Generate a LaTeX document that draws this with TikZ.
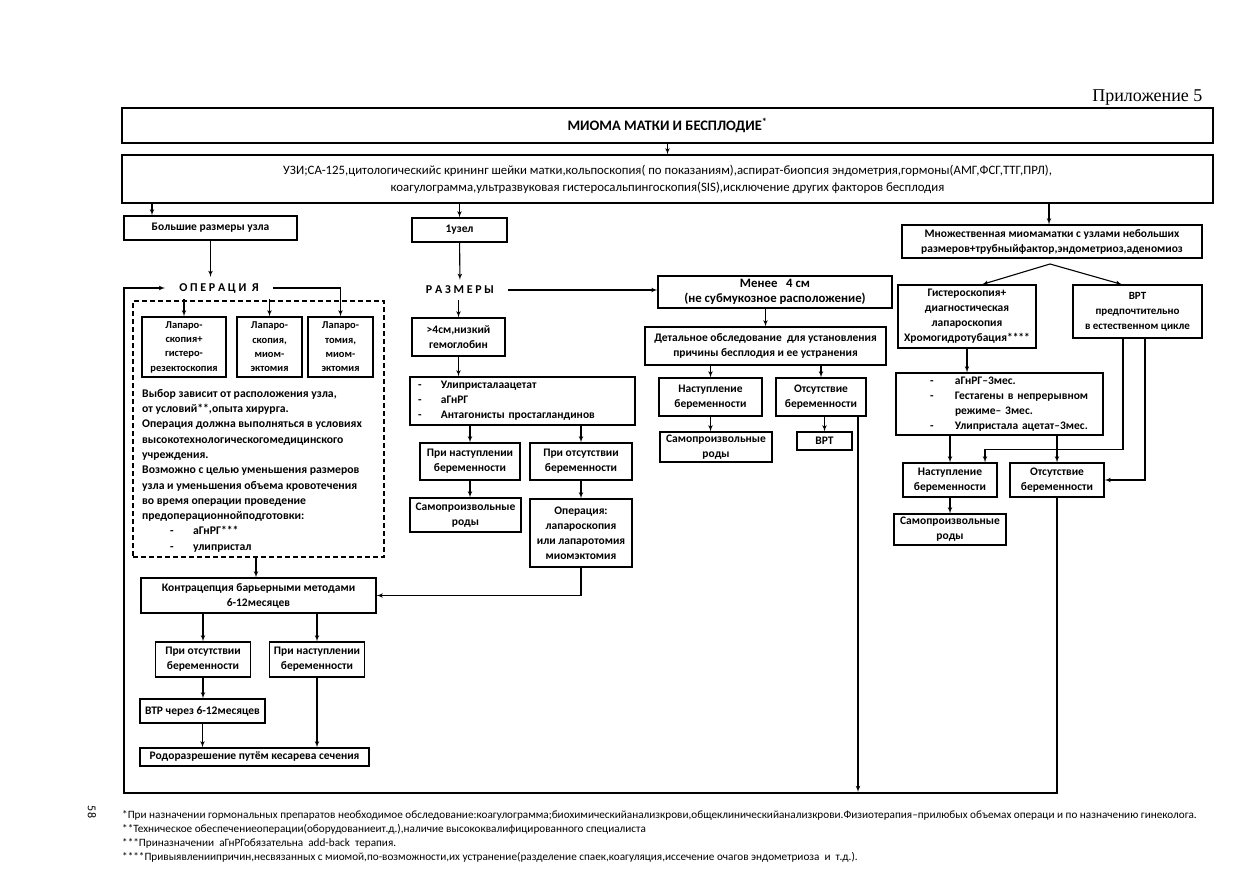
\documentclass[tikz,border=0pt]{standalone}
\usepackage{fontspec}
\setmainfont{Carlito}
\newfontfamily\serifru{Liberation Serif}
\usetikzlibrary{shapes,arrows,positioning}

\begin{document}
\begin{tikzpicture}[x=1pt, y=-1pt, auto]
    \tikzstyle{block} = [rectangle, draw, line width=1.1pt, align=center, inner sep=2pt, font=\fontsize{11.5}{15}\selectfont\bfseries]
    \tikzstyle{tight} = [font=\fontsize{10.5}{14.3}\selectfont\bfseries]
    \tikzstyle{plain} = [font=\fontsize{12.8}{17}\selectfont]
    \tikzstyle{spaced} = [inner xsep=14pt, inner ysep=6pt, font=\fontsize{12}{13}\selectfont\bfseries]
    \tikzstyle{dashbox} = [draw, line width=1.1pt, dash pattern=on 5pt off 3pt]
    \tikzstyle{fnote} = [anchor=west, inner sep=0pt, font=\fontsize{11.2}{12}\selectfont]
    \tikzstyle{line} = [draw, line width=1.1pt, -latex']

    \useasboundingbox (0,0) rectangle (1259,893);

    % heading
    \node [anchor=east, font=\serifru\fontsize{18}{20}\selectfont] (app) at (1206,98) {Приложение 5};
    \node [block, minimum width=1091, minimum height=35, font=\fontsize{14.5}{16}\selectfont\bfseries] (title) at (667.5,125.5) {МИОМА МАТКИ И БЕСПЛОДИЕ\textsuperscript{*}};
    \node [block, plain, minimum width=1091, minimum height=48] (exam) at (667.5,179) {УЗИ;СА-125,цитологическийс крининг шейки матки,кольпоскопия( по показаниям),аспират-биопсия эндометрия,гормоны(АМГ,ФСГ,ТТГ,ПРЛ),\\коагулограмма,ультразвуковая гистеросальпингоскопия(SIS),исключение других факторов бесплодия};

    % left column
    \node [block, minimum width=173, minimum height=24] (large) at (210.5,228) {Большие размеры узла};
    \node [spaced] (oper) at (219,288) {О П Е Р А Ц И~~Я};
    \node [dashbox, minimum width=251, minimum height=256] (frame) at (258.5,429) {};
    \node [block, tight, minimum width=84, minimum height=60] (lapA) at (184,347) {Лапаро-\\скопия+\\гистеро-\\резектоскопия};
    \node [block, tight, minimum width=65, minimum height=60] (lapB) at (269.5,347) {Лапаро-\\скопия,\\миом-\\эктомия};
    \node [block, tight, minimum width=65, minimum height=60] (lapC) at (340.5,347) {Лапаро-\\томия,\\миом-\\эктомия};
    \node [anchor=north west, align=left, inner sep=0pt, font=\fontsize{11.7}{15.3}\selectfont\bfseries] (choice) at (142,389) {Выбор зависит от расположения узла,\\от условий**,опыта хирурга.\\Операция должна выполняться в условиях\\высокотехнологическогомедицинского\\учреждения.\\Возможно с целью уменьшения размеров\\узла и уменьшения объема кровотечения\\во время операции проведение\\предоперационнойподготовки:\\\hspace*{28pt}\makebox[23pt][l]{-}аГнРГ***\\\hspace*{28pt}\makebox[23pt][l]{-}улипристал};
    \node [block, minimum width=235, minimum height=35] (contra) at (258.5,595.5) {Контрацепция барьерными методами\\6-12месяцев};
    \node [block, minimum width=95, minimum height=35] (absA) at (203,659.5) {При отсутствии\\беременности};
    \node [block, minimum width=95, minimum height=35] (presA) at (317,659.5) {При наступлении\\беременности};
    \node [block, minimum width=125, minimum height=24] (art) at (202.5,711) {ВТР через 6-12месяцев};
    \node [block, minimum width=229, minimum height=18, inner sep=1pt] (cesar) at (254.5,757) {Родоразрешение путём кесарева сечения};

    % middle column
    \node [block, minimum width=95, minimum height=24] (node1) at (459.5,230) {1узел};
    \node [spaced] (size) at (460,290) {Р А З М Е Р Ы};
    \node [block, minimum width=93, minimum height=38] (big) at (458.5,337) {>4см,низкий\\гемоглобин};
    \node [block, align=left, text width=209, inner xsep=8pt, minimum height=48] (drugs) at (522.5,401) {\makebox[23pt][l]{-}Улипристалаацетат\\\makebox[23pt][l]{-}аГнРГ\\\makebox[23pt][l]{-}Антагонисты простагландинов};
    \node [block, minimum width=100, minimum height=37] (presB) at (470,461.5) {При наступлении\\беременности};
    \node [block, minimum width=102, minimum height=37] (absB) at (581,461.5) {При отсутствии\\беременности};
    \node [block, minimum width=111, minimum height=34] (birthB) at (465.5,515) {Самопроизвольные\\роды};
    \node [block, minimum width=102, minimum height=68] (surg) at (581,533) {Операция:\\лапароскопия\\или лапаротомия\\миомэктомия};

    \node [block, minimum width=234, minimum height=32, font=\fontsize{12.8}{15.5}\selectfont\bfseries] (small) at (775,292) {Менее \ \ 4 см\\(не субмукозное расположение)};
    \node [block, minimum width=241, minimum height=38] (detail) at (765.5,346) {Детальное обследование \ для установления\\причины бесплодия и ее устранения};
    \node [block, minimum width=103, minimum height=38] (presC) at (710.5,397) {Наступление\\беременности};
    \node [block, minimum width=90, minimum height=38] (absC) at (821,397) {Отсутствие\\беременности};
    \node [block, minimum width=112, minimum height=30] (birthC) at (716,447) {Самопроизвольные\\роды};
    \node [block, minimum width=55, minimum height=18, inner sep=1pt] (artC) at (824.5,441) {ВРТ};

    % right column
    \node [block, minimum width=300, minimum height=33] (multi) at (1052,241.5) {Множественная миомаматки с узлами небольших\\размеров+трубныйфактор,эндометриоз,аденомиоз};
    \node [block, minimum width=138, minimum height=63] (hys) at (967,316.5) {Гистероскопия+\\диагностическая\\лапароскопия\\Хромогидротубация****};
    \node [block, minimum width=129, minimum height=53, font=\fontsize{11}{15}\selectfont\bfseries] (artpref) at (1137.5,311.5) {ВРТ\\предпочтительно\\в естественном цикле};
    \node [block, align=left, text width=195, inner xsep=6pt, minimum height=62] (hormon) at (999.5,404) {\hspace*{28pt}\makebox[25pt][l]{-}аГнРГ–3мес.\\\hspace*{28pt}\makebox[25pt][l]{-}Гестагены в непрерывном\\\hspace*{53pt}режиме– 3мес.\\\hspace*{28pt}\makebox[25pt][l]{-}Улипристала ацетат–3мес.};
    \node [block, minimum width=94, minimum height=34] (presD) at (950,480) {Наступление\\беременности};
    \node [block, minimum width=94, minimum height=34] (absD) at (1057,480) {Отсутствие\\беременности};
    \node [block, minimum width=112, minimum height=31] (birthD) at (950,529.5) {Самопроизвольные\\роды};

    % footnotes
    \node [fnote] (fn1) at (122,815) {*При назначении гормональных препаратов необходимое обследование:коагулограмма;биохимическийанализкрови,общеклиническийанализкрови.Физиотерапия–прилюбых объемах операци и по назначению гинеколога.};
    \node [fnote] (fn2) at (122,829) {**Техническое обеспечениеоперации(оборудованиеит.д.),наличие высококвалифицированного специалиста};
    \node [fnote] (fn3) at (122,843) {***Приназначении \ аГнРГобязательна \ add-back \ терапия.};
    \node [fnote] (fn4) at (122,857) {****Привыявлениипричин,несвязанных с миомой,по-возможности,их устранение(разделение спаек,коагуляция,иссечение очагов эндометриоза \ и \ т.д.).};
    \node [rotate=-90, font=\fontsize{12}{14}\selectfont] (page) at (92,812) {58};

    \coordinate (join) at (858,792);
    \coordinate (fork) at (1050,264);
    \coordinate (loopR) at (1057,793);
    \coordinate (loopL) at (124,793);

    \path [line] (title) -- (exam);
    \path [line] (exam.south -| 152,0) -- (large.north -| 152,0);
    \path [line] (exam.south -| node1) -- (node1);
    \path [line] (exam.south -| 1049,0) -- (multi.north -| 1049,0);

    \path [line] (large) -- (large.south |- oper.north);
    \path [line] (oper.east) -| (lapC);
    \path [line] (lapA |- oper.south) -- (lapA);
    \path [line] (lapB |- oper.south) -- (lapB);
    \path [line] (frame.south -| 256,0) -- (contra.north -| 256,0);
    \path [line] (contra.south -| absA) -- (absA);
    \path [line] (contra.south -| presA) -- (presA);
    \path [line] (absA.south) -- (absA.south |- art.north);
    \path [line] (art.south) -- (art.south |- cesar.north);
    \path [line] (presA.south) -- (presA.south |- cesar.north);
    \path [line] (surg.south) |- (contra.east);

    \path [line] (node1) -- (size);
    \path [line] (size.east) -- (size.east -| small.west);
    \path [line] (size.south -| big) -- (big);
    \path [line] (big) -- (big |- drugs.north);
    \path [line] (drugs.south -| presB) -- (presB);
    \path [line] (drugs.south -| absB) -- (absB);
    \path [line] (presB.south) -- (presB.south |- birthB.north);
    \path [line] (absB) -- (surg);

    \path [line] (small.south -| detail) -- (detail);
    \path [line] (detail.south -| presC) -- (presC);
    \path [line] (detail.south -| absC) -- (absC);
    \path [line] (presC.south) -- (presC.south |- birthC.north);
    \path [line] (absC.south -| artC) -- (artC);
    \path [line] (absC.south -| join) -- (join);

    \path [line] (fork) -- (hys.north -| 982,0);
    \path [line] (fork) -- (artpref.north -| 1122,0);
    \path [line] (hys.south) -- (hys.south |- hormon.north);
    \path [line] (hormon.south -| presD) -- (presD);
    \path [line] (hormon.south -| absD) -- (absD);
    \path [line] (artpref.south -| 1123,0) -- ++(0,111) -| (presD.north -| 985,0);
    \path [line] (artpref.south -| 1145,0) |- (absD.east);
    \path [line] (presD) -- (birthD);
    \path [line] (absD.south) -- (loopR) -- (loopL) |- (oper.west);
\end{tikzpicture}
\end{document}
